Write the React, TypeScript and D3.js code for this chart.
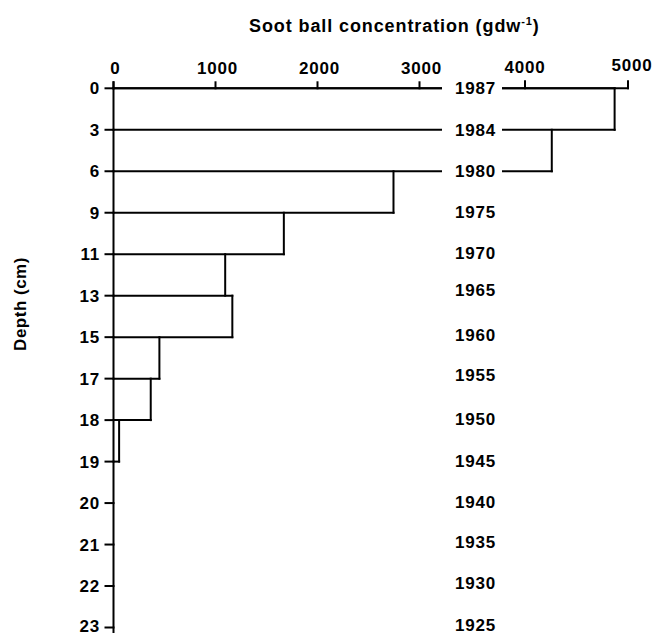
import React from "react";
import * as d3 from "d3";

const depthLabels = ["0", "3", "6", "9", "11", "13", "15", "17", "18", "19", "20", "21", "22", "23"];
const yearLabels = ["1987", "1984", "1980", "1975", "1970", "1965", "1960", "1955", "1950", "1945", "1940", "1935", "1930", "1925"];
// soot ball concentration for each depth interval (between consecutive depth labels)
const concentration = [4870, 4260, 2745, 1670, 1095, 1165, 450, 365, 55, 0, 0, 0, 0];
const leftTicks = [0, 1000, 2000, 3000];
const rightTicks = [4000, 5000];

const W = 655;
const H = 635;
const FONT = "'Liberation Sans', Arial, Helvetica, sans-serif";
// small vertical nudges of the year labels, as set in the original figure
const YEAR_NUDGE = [0, 0, 0, -1, -1, -6, -2, -4, -1, -1, -1, -3, -3, -3];

export default function App() {
  const xL = d3.scaleLinear().domain([0, 3000]).range([113.5, 419.5]);
  const xR = d3.scaleLinear().domain([4000, 5000]).range([525, 628]);
  const leftEnd = xL.invert(441);
  const y = d3.scalePoint<string>().domain(depthLabels).range([88.3, 627.5]);

  const xv = (v: number) => (v <= leftEnd ? xL(v) : xR(v));

  const segs: { x1: number; y1: number; x2: number; y2: number }[] = [];
  depthLabels.forEach((d, i) => {
    const above = i > 0 ? concentration[i - 1] : 0;
    const below = i < concentration.length ? concentration[i] : 0;
    const m = Math.max(above, below);
    if (m <= 0) return;
    const yy = y(d)!;
    if (m <= leftEnd) {
      segs.push({ x1: xL(0), y1: yy, x2: xL(m), y2: yy });
    } else {
      segs.push({ x1: xL(0), y1: yy, x2: 441, y2: yy });
      segs.push({ x1: 503, y1: yy, x2: xR(m), y2: yy });
    }
  });
  concentration.forEach((v, i) => {
    if (v <= 0) return;
    const x = xv(v);
    segs.push({ x1: x, y1: y(depthLabels[i])!, x2: x, y2: y(depthLabels[i + 1])! });
  });

  const y0 = y(depthLabels[0])!;
  const textStyle = { fontFamily: FONT, fontWeight: 700, fontSize: 17, letterSpacing: 0.8 } as React.CSSProperties;

  return (
    <svg width={W} height={H} style={{ position: "absolute", left: 0, top: 0, background: "#fff" }}>
      <g stroke="#000" strokeWidth={2} fill="none" strokeLinecap="square">
        <line x1={xL(0)} y1={y0 - 6} x2={xL(0)} y2={632} />
        {depthLabels.map((d) => (
          <line key={"lt" + d} x1={xL(0) - 8} x2={xL(0)} y1={y(d)} y2={y(d)} />
        ))}
        <line x1={xL(0)} y1={y0} x2={441} y2={y0} />
        {leftTicks.map((t) => (
          <line key={"tt" + t} x1={xL(t)} x2={xL(t)} y1={y0} y2={y0 - 6} />
        ))}
        <line x1={503} y1={y0} x2={xR(5000)} y2={y0} />
        {rightTicks.map((t) => (
          <line key={"rt" + t} x1={xR(t)} x2={xR(t)} y1={y0} y2={y0 - 7} />
        ))}
        {segs.map((s, i) => (
          <line key={"s" + i} x1={s.x1} y1={s.y1} x2={s.x2} y2={s.y2} />
        ))}
      </g>
      <g fill="#000" style={textStyle}>
        {leftTicks.map((t) => (
          <text key={"ltl" + t} x={xL(t) + 2} y={74} textAnchor="middle">{t}</text>
        ))}
        {rightTicks.map((t) => (
          <text key={"rtl" + t} x={xR(t) + (t === 5000 ? 4 : 0)} y={t === 5000 ? 71 : 73} textAnchor="middle">{t}</text>
        ))}
        {depthLabels.map((d, i) => (
          <text key={"dl" + d} x={100} y={y(d)! + (i === depthLabels.length - 1 ? 4 : 6)} textAnchor="end">{d}</text>
        ))}
        {yearLabels.map((yr, i) => (
          <text key={"yr" + yr} x={455} y={y(depthLabels[i])! + 6 + YEAR_NUDGE[i]}>{yr}</text>
        ))}
        <text x={249} y={32} style={{ ...textStyle, fontSize: 18, letterSpacing: 0.9 }}>
          Soot ball concentration (gdw<tspan fontSize={11} dy={-7}>-1</tspan><tspan dy={7}>)</tspan>
        </text>
        <text
          transform={`translate(26,304) rotate(-90)`}
          textAnchor="middle"
          style={{ ...textStyle, fontSize: 17, letterSpacing: 0.5 }}
        >
          Depth (cm)
        </text>
      </g>
    </svg>
  );
}
